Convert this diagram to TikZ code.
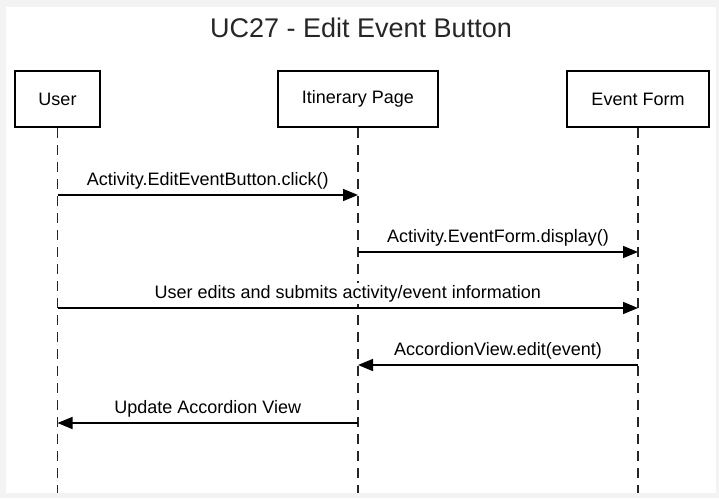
\documentclass[tikz,border=0pt]{standalone}
\usepackage{fontspec}
\setmainfont{Liberation Sans}
\usetikzlibrary{arrows.meta}

\definecolor{pagegray}{HTML}{F3F3F3}

\begin{document}
\begin{tikzpicture}[x=1pt, y=-1pt,
every node/.style={font=\fontsize{18}{21}\selectfont},
actor/.style={draw, line width=2.8pt, minimum height=56pt, inner sep=0pt},
lifeline/.style={draw=black!85, line width=1.2pt, dash pattern=on 10pt off 7pt},
msg/.style={line width=1.5pt, -{Triangle[length=15pt, width=12pt]}},
msgtext/.style={anchor=base, yshift=10pt, inner sep=2pt, fill=white}]

% page
\fill[pagegray] (0,0) rectangle (719,498);
\fill[white] (6,7) rectangle (716,493);
\useasboundingbox (0,0) rectangle (719,498);

\node (title) [anchor=base, font=\fontsize{27}{32}\selectfont, text=black!85] at (361,37) {UC27 - Edit Event Button};

% actors
\node (user) [actor, minimum width=85pt] at (57.5,99) {User};
\node (page) [actor, minimum width=160pt] at (358,99) {Itinerary Page};
\node (form) [actor, minimum width=142pt] at (638,99) {Event Form};

\coordinate (userend) at (57.5,493);
\coordinate (pageend) at (358,493);
\coordinate (formend) at (638,493);

\draw[lifeline] (user) -- (userend);
\draw[lifeline] (page) -- (pageend);
\draw[lifeline] (form) -- (formend);

% messages
\coordinate (m1) at (0,195);
\coordinate (m2) at (0,252);
\coordinate (m3) at (0,308);
\coordinate (m4) at (0,365);
\coordinate (m5) at (0,423);

\draw[msg] (user |- m1) -- node[msgtext] {Activity.EditEventButton.click()} (page |- m1);
\draw[msg] (page |- m2) -- node[msgtext] {Activity.EventForm.display()} (form |- m2);
\draw[msg] (user |- m3) -- node[msgtext] {User edits and submits activity/event information} (form |- m3);
\draw[msg] (form |- m4) -- node[msgtext] {AccordionView.edit(event)} (page |- m4);
\draw[msg] (page |- m5) -- node[msgtext] {Update Accordion View} (user |- m5);

\end{tikzpicture}
\end{document}
